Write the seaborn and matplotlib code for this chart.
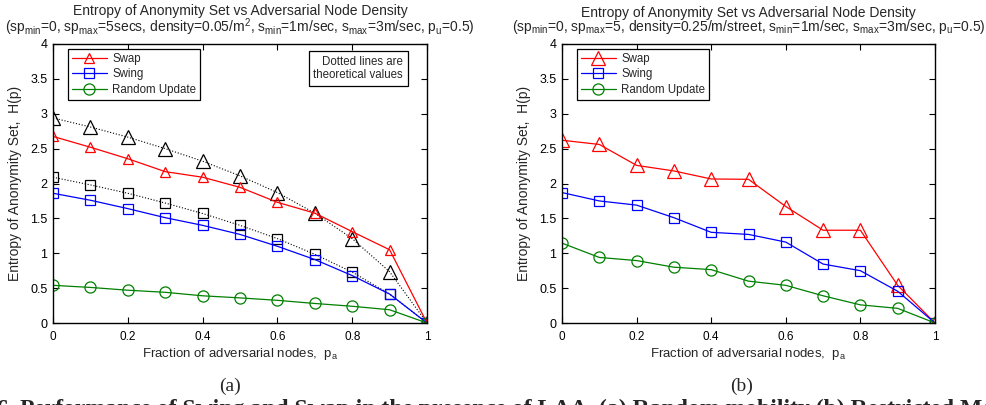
import numpy as np
import pandas as pd
import matplotlib
matplotlib.use("Agg")
import matplotlib.pyplot as plt
import seaborn as sns

# fraction of adversarial nodes
p_a = [0.0, 0.1, 0.2, 0.3, 0.4, 0.5, 0.6, 0.7, 0.8, 0.9, 1.0]

# (a) random mobility
swap_a = [2.675, 2.52, 2.355, 2.17, 2.09, 1.945, 1.73, 1.575, 1.31, 1.05, 0.0]
swap_theory_a = [2.94, 2.81, 2.665, 2.50, 2.32, 2.11, 1.87, 1.575, 1.21, 0.735, 0.0]
swing_a = [1.86, 1.76, 1.64, 1.51, 1.40, 1.27, 1.10, 0.91, 0.68, 0.415, 0.0]
swing_theory_a = [2.09, 1.98, 1.86, 1.72, 1.57, 1.40, 1.21, 0.985, 0.73, 0.415, 0.0]
random_a = [0.54, 0.51, 0.47, 0.44, 0.39, 0.36, 0.325, 0.28, 0.24, 0.19, 0.0]

# (b) restricted mobility
swap_b = [2.62, 2.56, 2.26, 2.18, 2.065, 2.06, 1.67, 1.33, 1.33, 0.54, 0.0]
swing_b = [1.87, 1.75, 1.69, 1.51, 1.30, 1.27, 1.16, 0.845, 0.75, 0.455, 0.0]
random_b = [1.145, 0.94, 0.895, 0.80, 0.765, 0.60, 0.54, 0.39, 0.26, 0.21, 0.0]

series_names = ["Swap", "Swing", "Random Update"]
x_ticks = [0, 0.2, 0.4, 0.6, 0.8, 1]
y_ticks = [0, 0.5, 1, 1.5, 2, 2.5, 3, 3.5, 4]

titles = [
    "Entropy of Anonymity Set vs Adversarial Node Density\n"
    r"(sp$_{\rm min}$=0, sp$_{\rm max}$=5secs, density=0.05/m$^2$, "
    r"s$_{\rm min}$=1m/sec, s$_{\rm max}$=3m/sec, p$_{\rm u}$=0.5)",
    "Entropy of Anonymity Set vs Adversarial Node Density\n"
    r"(sp$_{\rm min}$=0, sp$_{\rm max}$=5, density=0.25/m/street, "
    r"s$_{\rm min}$=1m/sec, s$_{\rm max}$=3m/sec, p$_{\rm u}$=0.5)",
]

sns.set_theme(style="ticks")
plt.rcParams["font.family"] = ["Liberation Sans", "DejaVu Sans"]
plt.rcParams["mathtext.fontset"] = "custom"
plt.rcParams["mathtext.rm"] = "Liberation Sans"
plt.rcParams["mathtext.it"] = "Liberation Sans"

W, H = 986, 405
fig = plt.figure(figsize=(9.86, 4.05), dpi=100)
ax_a = fig.add_axes([53 / W, 1 - 323 / H, 374 / W, 279 / H])
ax_b = fig.add_axes([562 / W, 1 - 323 / H, 373 / W, 279 / H])


def draw(ax, x, y, color, marker, ms, ls="-", lw=0.9):
    sns.lineplot(x=x, y=y, ax=ax, color=color, linestyle=ls, linewidth=lw,
                 marker=marker, markersize=ms, markerfacecolor="none",
                 markeredgecolor=color, markeredgewidth=0.9, legend=False)
    return ax.lines[-1]


# theoretical curves (left panel only)
draw(ax_a, p_a, swap_theory_a, "black", "^", 10, ls=":", lw=0.8)
draw(ax_a, p_a, swing_theory_a, "black", "s", 7.5, ls=":", lw=0.8)

handles_a = [
    draw(ax_a, p_a, swap_a, "red", "^", 7.5),
    draw(ax_a, p_a, swing_a, "blue", "s", 7),
    draw(ax_a, p_a, random_a, "green", "o", 8),
]
handles_b = [
    draw(ax_b, p_a, swap_b, "red", "^", 10),
    draw(ax_b, p_a, swing_b, "blue", "s", 7.5),
    draw(ax_b, p_a, random_b, "green", "o", 8),
]

for ax, handles, title in [(ax_a, handles_a, titles[0]), (ax_b, handles_b, titles[1])]:
    ax.set_xlim(0, 1)
    ax.set_ylim(0, 4)
    ax.set_xticks(x_ticks)
    ax.set_xticklabels([f"{t:g}" for t in x_ticks], fontsize=8.5)
    ax.set_yticks(y_ticks)
    ax.set_yticklabels([f"{t:g}" for t in y_ticks], fontsize=9)
    ax.tick_params(direction="in", length=4, width=0.8, top=True, right=True,
                   colors="black")
    ax.tick_params(axis="x", pad=6)
    ax.tick_params(axis="y", pad=4)
    for s in ax.spines.values():
        s.set_visible(True)
        s.set_linewidth(1.0)
        s.set_color("black")
    ax.set_xlabel(r"Fraction of adversarial nodes,  p$_{\rm a}$", fontsize=9.5,
                  labelpad=2)
    ax.set_ylabel("Entropy of Anonymity Set,  H(p)", fontsize=10, labelpad=6)
    ax.set_title(title, fontsize=10, linespacing=0.85, pad=9)
    leg = ax.legend(handles, series_names, loc="upper left",
                    bbox_to_anchor=(15 / 374, 1 - 5 / 279), borderaxespad=0,
                    fontsize=8.3, frameon=True, fancybox=False, framealpha=1,
                    edgecolor="black", handlelength=3.0, borderpad=0.35,
                    labelspacing=0.3, handletextpad=0.5)
    leg.get_frame().set_linewidth(0.9)

ax_a.text(1 - 24 / 374, 1 - 12 / 279, "Dotted lines are\ntheoretical values",
          transform=ax_a.transAxes, ha="right", va="top", fontsize=8.3,
          linespacing=1.1,
          bbox=dict(boxstyle="square,pad=0.4", fc="white", ec="black", lw=0.9))

fig.text(230 / W, 1 - 386 / H, "(a)", ha="center", va="center", fontsize=14,
         family="Liberation Serif")
fig.text(742 / W, 1 - 386 / H, "(b)", ha="center", va="center", fontsize=14,
         family="Liberation Serif")
fig.text(14 / W, 1 - 399 / H, "Fig. 6.", ha="right", va="top", fontsize=17,
         fontweight="bold", family="Liberation Serif")
fig.text(20 / W, 1 - 399 / H,
         "Performance of Swing and Swap in the presence of LAA. (a) Random mobility (b) Restricted Mobility",
         ha="left", va="top", fontsize=17, fontweight="bold", family="Liberation Serif")

fig.savefig("out.png", dpi=100)
